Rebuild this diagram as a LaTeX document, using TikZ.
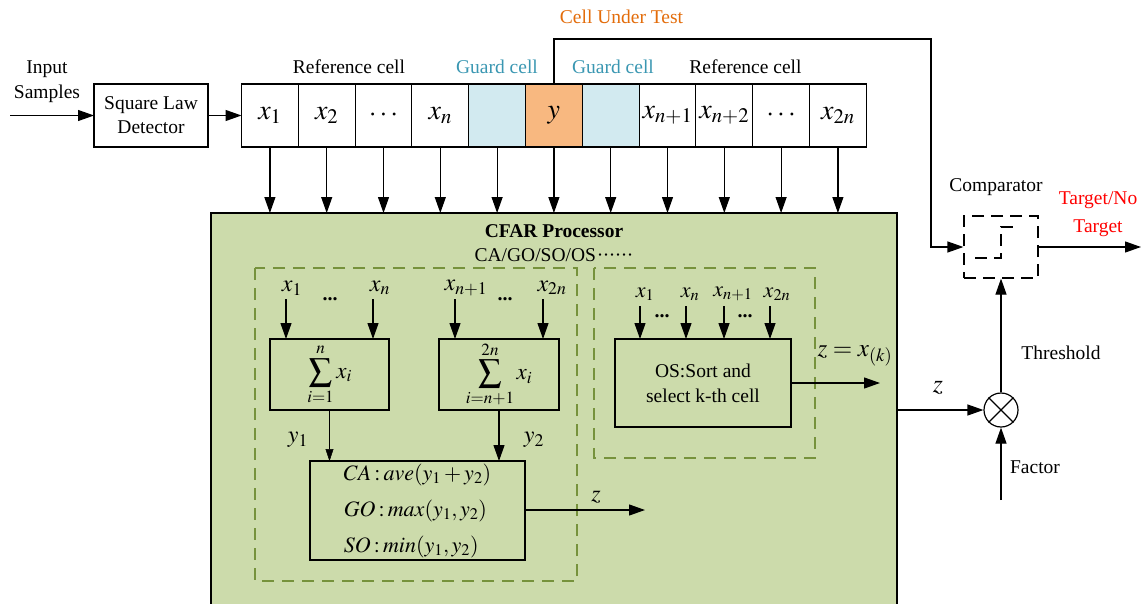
\documentclass[tikz,border=0pt]{standalone}
\usepackage{mathptmx}
\usepackage{fontspec}
\setmainfont{Liberation Serif}
\usetikzlibrary{arrows.meta,calc}
\definecolor{guardc}{HTML}{D2EAF0}
\definecolor{cutc}{HTML}{F8B880}
\definecolor{cfarg}{HTML}{CCDBAB}
\definecolor{oliv}{HTML}{76923C}
\definecolor{tealt}{HTML}{3A97B2}
\definecolor{oranget}{HTML}{E36C0A}
\begin{document}
\begin{tikzpicture}[x=1pt,y=-1pt,
  lbl/.style={font=\fontsize{19.5}{25}\selectfont, inner sep=0pt},
  mth/.style={font=\fontsize{24}{26}\selectfont, inner sep=0pt},
  dts/.style={font=\fontsize{20}{22}\bfseries, inner sep=0pt},
  cell/.style={draw, line width=1.1pt, minimum width=56.8pt, minimum height=63pt, inner sep=0pt, outer sep=0pt, font=\fontsize{28}{30}\selectfont},
  arr/.style={line width=1.2pt, -{Triangle[length=16pt,width=11pt]}},
  thinarr/.style={line width=0.5pt, -{Triangle[length=12pt,width=8pt]}},
  box/.style={draw, line width=1.2pt, inner sep=0pt, outer sep=0pt},
  odash/.style={draw=oliv, line width=2.4pt, dash pattern=on 12pt off 8pt},
  cdash/.style={line width=1.2pt, dash pattern=on 12pt off 7pt},
]
\clip (0,0) rectangle (1142,604);
\fill[white] (0,0) rectangle (1142,604);

% CFAR processor box
\node[box, fill=cfarg, minimum width=686pt, minimum height=440pt, anchor=north west] (cfar) at (211,213) {};

% input
\node[lbl, align=center] (inp) at (47,82) {Input\\Samples};
\coordinate (in0) at (10,115.5);
\node[box, lbl, minimum width=114pt, minimum height=63pt, align=center, font=\fontsize{19.5}{24}\selectfont] (sld) at (151,115.5) {Square Law\\Detector};
\draw[arr] (in0) -- (sld);

% cells
\node[cell, anchor=west] (c1) at (241.5,115.5) {$x_1$};
\node[cell, anchor=west] (c2) at (c1.east) {$x_2$};
\node[cell, anchor=west] (c3) at (c2.east) {$\cdots$};
\node[cell, anchor=west] (c4) at (c3.east) {$x_n$};
\node[cell, anchor=west, fill=guardc] (c5) at (c4.east) {};
\node[cell, anchor=west, fill=cutc] (c6) at (c5.east) {$y$};
\node[cell, anchor=west, fill=guardc] (c7) at (c6.east) {};
\node[cell, anchor=west] (c8) at (c7.east) {$x_{n+1}$};
\node[cell, anchor=west] (c9) at (c8.east) {$x_{n+2}$};
\node[cell, anchor=west] (c10) at (c9.east) {$\cdots$};
\node[cell, anchor=west] (c11) at (c10.east) {$x_{2n}$};
\draw[arr] (sld) -- (c1);

\node[lbl] (ref1) at (349,67) {Reference cell};
\node[lbl, text=tealt] (g1) at (497,67) {Guard cell};
\node[lbl, text=tealt] (g2) at (613,67) {Guard cell};
\node[lbl] (ref2) at (745.5,67) {Reference cell};
\node[lbl, text=oranget] (cutl) at (621.5,17) {Cell Under Test};

\foreach \i in {1,...,11} \draw[arr] (c\i.south) -- (c\i.south |- cfar.north);

% comparator
\node[cdash, draw, minimum width=74pt, minimum height=62pt, inner sep=0pt] (comp) at (1001,247) {};
\draw[cdash] (975,258) -- (1001,258) -- (1001,227) -- (1018,227);
\node[lbl] (compl) at (996,187) {Comparator};
\draw[arr] (c6.north) |- (931,39) |- (comp.west);
\coordinate (out) at (1141,247);
\draw[arr] (comp.east) -- (out);
\node[lbl, text=red, align=center, font=\fontsize{19.5}{28}\selectfont] (tgt) at (1098,214) {Target/No\\Target};

% multiplier
\node[draw, circle, line width=1.2pt, minimum size=34pt, inner sep=0pt] (mul) at (1001,410) {};
\draw[line width=1.2pt] (mul.north west) -- (mul.south east) (mul.north east) -- (mul.south west);
\draw[arr] (mul.north) -- (comp.south);
\coordinate (fac) at (1001,500);
\draw[arr] (fac) -- (mul.south);
\draw[arr] (cfar.east |- mul) -- (mul.west);
\node[lbl] (thr) at (1061,353) {Threshold};
\node[lbl] (facl) at (1035,467) {Factor};
\node[mth, font=\fontsize{26}{28}\selectfont] (zl) at (938,388) {$z$};

% CFAR inside
\node[lbl, font=\fontsize{19.5}{24}\bfseries] (title) at (554,231) {CFAR Processor};
\node[lbl] (sub) at (554,255) {CA/GO/SO/OS\kern1pt·\kern-0.5pt·\kern-0.5pt·\kern-0.5pt·\kern-0.5pt·\kern-0.5pt·};

\draw[odash] (255,268) rectangle (577,581);
\draw[odash] (594,268) rectangle (815,458);

% sum boxes
\node[box, minimum width=119pt, minimum height=71pt, font=\fontsize{23}{26}\selectfont] (s1) at (329.5,374.5) {$\displaystyle\sum_{i=1}^{n} x_i$};
\node[box, minimum width=120pt, minimum height=71pt, font=\fontsize{23}{26}\selectfont] (s2) at (499,374.5) {$\displaystyle\sum_{i=n+1}^{2n} x_i$};

\node[mth] (l1) at (292,288) {$x_1$};
\node[mth] (l2) at (380,288) {$x_n$};
\node[mth] (l3) at (466,288) {$x_{n+1}$};
\node[mth] (l4) at (552,288) {$x_{2n}$};
\node[dts] (d1) at (330,299) {...};
\node[dts] (d2) at (505,299) {...};
\coordinate (a1) at (286,299);
\coordinate (a2) at (373,299);
\coordinate (a3) at (455,299);
\coordinate (a4) at (543,299);
\draw[arr] (a1) -- (a1 |- s1.north);
\draw[arr] (a2) -- (a2 |- s1.north);
\draw[arr] (a3) -- (a3 |- s2.north);
\draw[arr] (a4) -- (a4 |- s2.north);

% CA/GO/SO box
\node[box, minimum width=215pt, minimum height=99pt, align=left, font=\fontsize{22}{36}\selectfont] (ca) at (417.5,510.5) {$CA\mathbin{:}ave(y_1+y_2)$\\$GO\mathbin{:}max(y_1,y_2)$\\$SO\mathbin{:}min(y_1,y_2)$};
\draw[thinarr] (s1.south) -- (s1.south |- ca.north);
\draw[arr] (s2.south) -- (s2.south |- ca.north);
\node[mth] (y1l) at (298,440) {$y_1$};
\node[mth] (y2l) at (534,440) {$y_2$};
\coordinate (zout) at (645,510);
\draw[arr] (ca.east |- zout) -- (zout);
\node[mth] (z1l) at (596,497) {$z$};

% OS box
\node[box, lbl, minimum width=176pt, minimum height=88pt, align=center, font=\fontsize{19.5}{25}\selectfont] (os) at (703,383) {OS:Sort and\\select k-th cell};
\node[mth, font=\fontsize{22}{24}\selectfont] (o1) at (645,294) {$x_1$};
\node[mth, font=\fontsize{22}{24}\selectfont] (o2) at (690,294) {$x_n$};
\node[mth, font=\fontsize{22}{24}\selectfont] (o3) at (733,294) {$x_{n+1}$};
\node[mth, font=\fontsize{22}{24}\selectfont] (o4) at (777,294) {$x_{2n}$};
\node[dts] (od1) at (662,316) {...};
\node[dts] (od2) at (745,316) {...};
\coordinate (b1) at (640,306);
\coordinate (b2) at (686,306);
\coordinate (b3) at (724,306);
\coordinate (b4) at (770,306);
\foreach \b in {b1,b2,b3,b4} \draw[arr] (\b) -- (\b |- os.north);
\coordinate (osout) at (880,383);
\draw[arr] (os.east) -- (osout);
\node[mth, font=\fontsize{25}{28}\selectfont] (zk) at (855,356) {$z=x_{(k)}$};
\end{tikzpicture}
\end{document}
